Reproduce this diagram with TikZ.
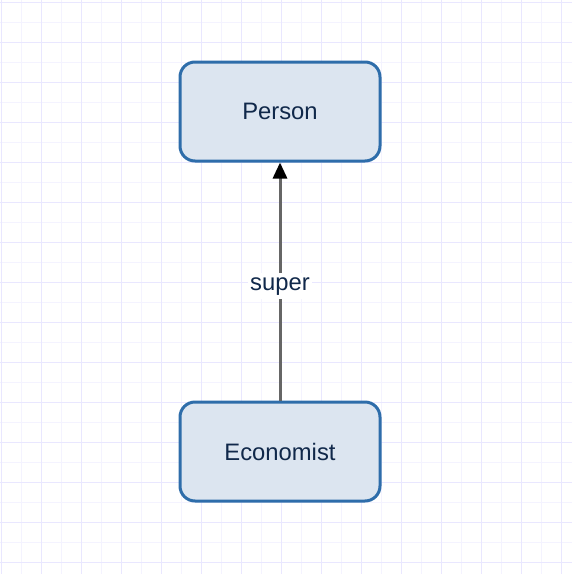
\documentclass[tikz,border=0pt]{standalone}
\usepackage{fontspec}
\setmainfont{Liberation Sans}
\usetikzlibrary{arrows.meta}
\definecolor{gridminor}{HTML}{F4F3FF}
\definecolor{gridmajor}{HTML}{E9E7FF}
\definecolor{boxfill}{HTML}{DCE5F0}
\definecolor{boxline}{HTML}{2E6DAA}
\definecolor{textcol}{HTML}{10284A}
\definecolor{edgecol}{HTML}{666666}
\tikzset{
  classbox/.style={draw=boxline, line width=3pt, fill=boxfill, rounded corners=15pt,
    minimum width=200pt, minimum height=99pt, inner sep=0pt, text=textcol,
    font=\fontsize{23.8}{28}\selectfont},
  edgelabel/.style={fill=white, text=textcol, inner xsep=2pt, inner ysep=4pt,
    font=\fontsize{23.8}{28}\selectfont},
  superedge/.style={draw=edgecol, line width=3pt,
    -{Triangle[length=16pt,width=14pt,fill=black,color=black]}}
}
\begin{document}
\begin{tikzpicture}[x=1pt,y=-1pt]
\useasboundingbox (0,0) rectangle (572,574);
\fill[white] (0,0) rectangle (572,574);
\foreach \i in {0,...,28} {
  \draw[gridminor, line width=1.5pt] (1.5+20*\i,0) -- (1.5+20*\i,574);
  \draw[gridminor, line width=1.5pt] (0,2.7+20*\i) -- (572,2.7+20*\i);
}
\foreach \i in {0,...,14} {
  \draw[gridmajor, line width=1.5pt] (1.5+40*\i,0) -- (1.5+40*\i,574);
  \draw[gridmajor, line width=1.5pt] (0,2.7+40*\i) -- (572,2.7+40*\i);
}
\node[classbox] (person) at (280,111.5) {Person};
\node[classbox] (economist) at (280,451.5) {Economist};
\draw[superedge] (economist.north) -- (person.south);
\node[edgelabel, anchor=base] (lbl) at (280,290) {super};
\end{tikzpicture}
\end{document}
